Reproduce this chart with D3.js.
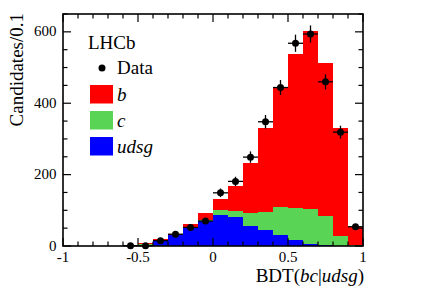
<!DOCTYPE html>
<html>
<head>
<meta charset="utf-8">
<script src="https://cdn.jsdelivr.net/npm/d3@7"></script>
<style>
  body { margin: 0; background: #fff; }
  svg text { font-family: "Liberation Serif", "DejaVu Serif", serif; fill: #000; }
</style>
</head>
<body>
<div id="chart"></div>
<script>
// Bin lower edges (BDT), width 0.1
const binLow = [-1.0, -0.9, -0.8, -0.7, -0.6, -0.5, -0.4, -0.3, -0.2, -0.1,
                0.0, 0.1, 0.2, 0.3, 0.4, 0.5, 0.6, 0.7, 0.8, 0.9];
const udsgVals = [1, 1, 1, 1, 1, 4, 16, 30, 52, 70, 86, 81, 57, 45, 31, 17, 6, 3, 1, 0];
const cVals    = [0, 0, 0, 0, 0, 1, 1, 1, 2, 2, 15, 18, 35, 50, 77, 89, 98, 80, 26, 4];
const bVals    = [0, 0, 0, 0, 1, 3, 3, 4, 9, 20, 32, 69, 140, 236, 338, 431, 498, 431, 303, 50];

// Data points (bin centres), with vertical errors
const dataX   = [-0.55, -0.45, -0.35, -0.25, -0.15, -0.05, 0.05, 0.15, 0.25, 0.35, 0.45, 0.55, 0.65, 0.75, 0.85, 0.95];
const dataY   = [1, 1, 15, 33, 52, 70, 149, 181, 249, 348, 444, 568, 594, 460, 319, 54];
const dataErr = [1, 1, 4, 6, 7, 8, 12, 13, 16, 19, 21, 24, 24, 21, 18, 7];

const xTicks = [-1, -0.5, 0, 0.5, 1];
const yTicks = [0, 200, 400, 600];

const margin = { top: 14, right: 64, bottom: 44, left: 63 };
const width = 427 - margin.left - margin.right;
const height = 290 - margin.top - margin.bottom;

const svg = d3.select('#chart').append('svg')
    .attr('width', 427).attr('height', 290)
    .append('g')
    .attr('transform', `translate(${margin.left},${margin.top})`);

const x = d3.scaleLinear().domain([-1, 1]).range([0, width]);
const y = d3.scaleLinear().domain([0, 650]).range([height, 0]);

// Stacked histogram
const rows = binLow.map((lo, i) => ({ lo, udsg: udsgVals[i], c: cVals[i], b: bVals[i] }));
const stack = d3.stack().keys(['udsg', 'c', 'b'])(rows);
const colors = { udsg: '#0000ff', c: '#59d454', b: '#ff0000' };

stack.forEach(layer => {
    svg.append('g')
        .selectAll('rect')
        .data(layer)
        .enter()
        .append('rect')
        .attr('x', d => x(d.data.lo))
        .attr('width', x(0.1) - x(0))
        .attr('y', d => y(d[1]))
        .attr('height', d => Math.max(0, y(d[0]) - y(d[1])))
        .attr('fill', colors[layer.key])
        .attr('shape-rendering', 'crispEdges');
});

// Data points with error bars
const pts = svg.append('g');
dataX.forEach((xv, i) => {
    pts.append('line')
        .attr('x1', x(xv - 0.05)).attr('x2', x(xv + 0.05))
        .attr('y1', y(dataY[i])).attr('y2', y(dataY[i]))
        .attr('stroke', '#000').attr('stroke-width', 1.3);
    pts.append('line')
        .attr('x1', x(xv)).attr('x2', x(xv))
        .attr('y1', y(Math.max(0, dataY[i] - dataErr[i]))).attr('y2', y(dataY[i] + dataErr[i]))
        .attr('stroke', '#000').attr('stroke-width', 1.3);
    pts.append('circle')
        .attr('cx', x(xv)).attr('cy', y(dataY[i]))
        .attr('r', 3.5).attr('fill', '#000');
});

// Axes, ROOT style: ticks inward on all sides
const xMinor = d3.range(-1, 1.0001, 0.1).map(v => +v.toFixed(2));
const yMinor = d3.range(0, 651, 50);

const frame = svg.append('g');
frame.append('rect')
    .attr('width', width).attr('height', height)
    .attr('fill', 'none').attr('stroke', '#000').attr('stroke-width', 1.6);

function tick(x1, y1, x2, y2) {
    frame.append('line')
        .attr('x1', x1).attr('y1', y1).attr('x2', x2).attr('y2', y2)
        .attr('stroke', '#000').attr('stroke-width', 1.2);
}

xMinor.forEach(v => {
    const major = xTicks.some(t => Math.abs(t - v) < 1e-6);
    const len = major ? 8 : 4.5;
    tick(x(v), height, x(v), height - len);
    tick(x(v), 0, x(v), len);
});
yMinor.forEach(v => {
    const major = yTicks.includes(v);
    const len = major ? 8 : 4.5;
    tick(0, y(v), len, y(v));
    tick(width, y(v), width - len, y(v));
});

// Tick labels
svg.append('g').selectAll('text')
    .data(xTicks).enter().append('text')
    .attr('x', d => x(d)).attr('y', height + 16)
    .attr('text-anchor', 'middle')
    .style('font-size', '15px')
    .text(d => d);

svg.append('g').selectAll('text')
    .data(yTicks).enter().append('text')
    .attr('x', -6.5).attr('y', d => y(d) + 4.5)
    .attr('text-anchor', 'end')
    .style('font-size', '15px')
    .text(d => d);

// Axis titles
const xt = svg.append('text')
    .attr('x', width + 1).attr('y', height + 36)
    .attr('text-anchor', 'end')
    .style('font-size', '19px');
xt.append('tspan').text('BDT(');
xt.append('tspan').style('font-style', 'italic').text('bc');
xt.append('tspan').text('|');
xt.append('tspan').style('font-style', 'italic').text('udsg');
xt.append('tspan').text(')');

svg.append('text')
    .attr('transform', 'rotate(-90)')
    .attr('x', 1).attr('y', -40)
    .attr('text-anchor', 'end')
    .style('font-size', '19px')
    .text('Candidates/0.1');

// Legend
const lg = svg.append('g');
lg.append('text').attr('x', 25).attr('y', 35).style('font-size', '19px').text('LHCb');
lg.append('circle').attr('cx', 39).attr('cy', 54).attr('r', 3.5).attr('fill', '#000');
lg.append('text').attr('x', 54).attr('y', 60).style('font-size', '19px').text('Data');

const legendItems = [
    { key: 'b', label: 'b', y: 71 },
    { key: 'c', label: 'c', y: 97 },
    { key: 'udsg', label: 'udsg', y: 123 }
];
legendItems.forEach(d => {
    lg.append('rect')
        .attr('x', 27).attr('y', d.y).attr('width', 23).attr('height', 18.5)
        .attr('fill', colors[d.key]);
    lg.append('text')
        .attr('x', 54).attr('y', d.y + 16)
        .style('font-size', '19px').style('font-style', 'italic')
        .text(d.label);
});
</script>
</body>
</html>
